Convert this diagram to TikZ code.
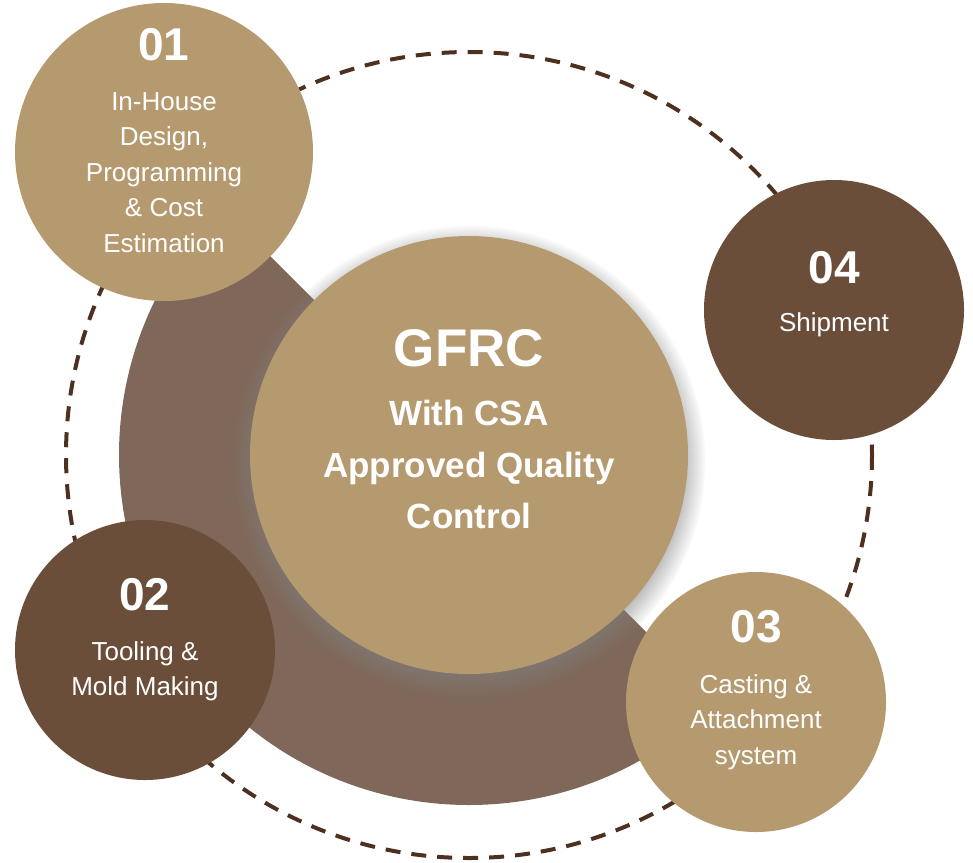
\documentclass[tikz,border=0pt]{standalone}
\usepackage{fontspec}
\setmainfont{Liberation Sans}
\usetikzlibrary{calc,shadows}
\definecolor{tanc}{HTML}{B69A6F}
\definecolor{darkc}{HTML}{6B4E39}
\definecolor{taupec}{HTML}{7F6859}
\definecolor{dashc}{HTML}{4E3020}
\tikzset{disc/.style={circle,draw=none,inner sep=0pt},
    numtxt/.style={text=white,inner sep=0pt,anchor=base,font=\bfseries\fontsize{46}{46}\selectfont},
    steptxt/.style={text=white,inner sep=0pt,align=center,font=\fontsize{26}{35.5}\selectfont},
    hubtxt/.style={text=white,inner sep=0pt,align=center,font=\bfseries\fontsize{35}{51.5}\selectfont},
    dashring/.style={draw=dashc,line width=4pt,dash pattern=on 15pt off 11pt}}

\begin{document}
\begin{tikzpicture}[x=1pt,y=-1pt]
\useasboundingbox (0,0) rectangle (973,862);
\coordinate (o) at (469,455);
% outer dashed ring and half disc
\draw[dashring] (o) circle[radius=403];
\fill[taupec] (o) ++(45:350) arc[start angle=45,end angle=225,radius=350] -- cycle;
% hub
\node[disc,fill=tanc,minimum size=438pt,
    circular drop shadow={shadow xshift=0pt,shadow yshift=-6pt,shadow scale=1.08,opacity=0.8}] (hub) at (o) {};
\node[text=white,inner sep=0pt,anchor=base,font=\bfseries\fontsize{53}{53}\selectfont] (hubt) at (469,366) {GFRC};
\node[hubtxt,anchor=north] (hubs) at (469,400) {With CSA\\Approved Quality\\Control};
% steps
\node[disc,fill=tanc,minimum size=298pt] (s1) at (164,152) {};
\node[numtxt] (n1) at (164,60) {01};
\node[steptxt,anchor=north] (t1) at (164,92) {In-House\\Design,\\Programming\\\& Cost\\Estimation};
\node[disc,fill=darkc,minimum size=260pt] (s2) at (145,650) {};
\node[numtxt] (n2) at (145,610) {02};
\node[steptxt,anchor=north] (t2) at (145,641) {Tooling \&\\Mold Making};
\node[disc,fill=tanc,minimum size=260pt] (s3) at (756,702) {};
\node[numtxt] (n3) at (756,642) {03};
\node[steptxt,anchor=north] (t3) at (756,674) {Casting \&\\Attachment\\system};
\node[disc,fill=darkc,minimum size=260pt] (s4) at (834,310) {};
\node[numtxt] (n4) at (834,283) {04};
\node[steptxt,anchor=base] (t4) at (834,331) {Shipment};
\end{tikzpicture}
\end{document}
